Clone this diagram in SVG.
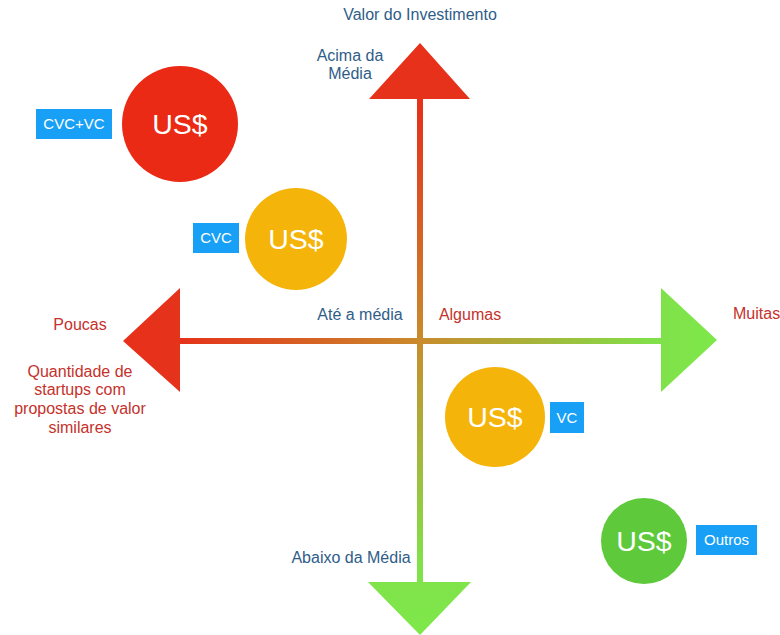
<svg xmlns="http://www.w3.org/2000/svg" width="780" height="635" viewBox="0 0 780 635">
<defs>
<linearGradient id="gv" gradientUnits="userSpaceOnUse" x1="0" y1="43" x2="0" y2="635">
<stop offset="0" stop-color="#e8301a"/>
<stop offset="0.12" stop-color="#e5331b"/>
<stop offset="0.5" stop-color="#c98b2c"/>
<stop offset="0.88" stop-color="#80e14a"/>
<stop offset="1" stop-color="#7ee84a"/>
</linearGradient>
<linearGradient id="gh" gradientUnits="userSpaceOnUse" x1="123" y1="0" x2="717" y2="0">
<stop offset="0" stop-color="#e8301a"/>
<stop offset="0.1" stop-color="#e5331b"/>
<stop offset="0.5" stop-color="#c98b2c"/>
<stop offset="0.9" stop-color="#80e14a"/>
<stop offset="1" stop-color="#7ee84a"/>
</linearGradient>
<style>
.t{font-family:"Liberation Sans",Arial,Helvetica,sans-serif;font-size:16px}
.blue{fill:#2f5d88}
.red{fill:#c4322b}
.mid{text-anchor:middle}
.us{font-family:"Liberation Sans",Arial,Helvetica,sans-serif;font-size:28.5px;fill:#fff;text-anchor:middle}
.tag{fill:#18a0f7}
.tagt{font-family:"Liberation Sans",Arial,Helvetica,sans-serif;font-size:15px;fill:#fff;text-anchor:middle}
</style>
</defs>
<rect width="780" height="635" fill="#fff"/>
<g id="connectors">
<path d="M420,43 L470,99 L423,99 L423,582 L471,582 L420,635 L368,582 L417,582 L417,99 L369,99 Z" fill="url(#gv)"/>
<path d="M123,341 L180,288 L180,338 L661,338 L661,288 L717,340 L661,392 L661,344 L180,344 L180,392 Z" fill="url(#gh)"/>
</g>
<g id="labels">
<text class="t blue mid" x="420" y="20">Valor do Investimento</text>
<text class="t blue mid" x="350" y="61">Acima da</text>
<text class="t blue mid" x="350" y="79">Média</text>
<text class="t red mid" x="80" y="330">Poucas</text>
<text class="t red mid" x="80" y="377">Quantidade de</text>
<text class="t red mid" x="80" y="395">startups com</text>
<text class="t red mid" x="80" y="414">propostas de valor</text>
<text class="t red mid" x="80" y="433">similares</text>
<text class="t blue mid" x="360" y="320">Até a média</text>
<text class="t red mid" x="470" y="320">Algumas</text>
<text class="t red" x="733" y="319">Muitas</text>
<text class="t blue mid" x="351" y="563">Abaixo da Média</text>
</g>
<g id="node-cvcvc">
<circle cx="180" cy="124" r="58" fill="#ea2a14"/>
<text class="us" x="180" y="134">US$</text>
<rect class="tag" x="36" y="109" width="76" height="30"/>
<text class="tagt" x="74" y="129">CVC+VC</text>
</g>
<g id="node-cvc">
<circle cx="296" cy="239" r="51" fill="#f4b40a"/>
<text class="us" x="296" y="249">US$</text>
<rect class="tag" x="193" y="223" width="46" height="30"/>
<text class="tagt" x="216" y="243">CVC</text>
</g>
<g id="node-vc">
<circle cx="495" cy="417" r="50" fill="#f4b40a"/>
<text class="us" x="495" y="427">US$</text>
<rect class="tag" x="550" y="402" width="34" height="31"/>
<text class="tagt" x="567" y="423">VC</text>
</g>
<g id="node-outros">
<circle cx="644" cy="541" r="43" fill="#5dc93b"/>
<text class="us" x="644" y="551">US$</text>
<rect class="tag" x="696" y="525" width="61" height="30"/>
<text class="tagt" x="726.5" y="545">Outros</text>
</g>
</svg>
